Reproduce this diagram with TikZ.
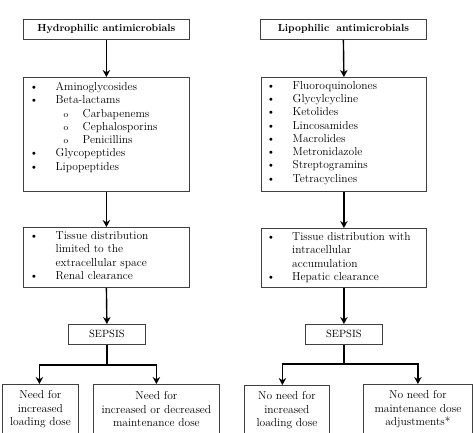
\documentclass[tikz,border=0pt]{standalone}
\usetikzlibrary{arrows.meta}
\newcommand\bitem[2][26pt]{\makebox[#1][l]{\textbullet}#2}
\newcommand\sitem[1]{\makebox[53pt][l]{\hspace{34pt}{\small o}}#1}
\newcommand\cont[2][26pt]{\hspace*{#1}#2}
\tikzset{
  box/.style={draw=black!75, line width=0.8pt, inner sep=0pt, anchor=north west},
  titlebox/.style={box, font=\fontsize{10.3}{12.5}\selectfont\bfseries},
  txt/.style={inner sep=0pt, anchor=north west, align=left, font=\fontsize{11.5}{13.3}\selectfont},
  ctrbox/.style={box, align=center, font=\fontsize{11.5}{13.5}\selectfont},
  sepbox/.style={box, font=\fontsize{10.5}{12.5}\selectfont},
  arr/.style={-{Stealth[length=7pt,width=7.5pt]}, line width=1.4pt},
  conn/.style={line width=1.4pt}
}
\begin{document}
\begin{tikzpicture}[x=1pt,y=-1pt]
\useasboundingbox (0,0) rectangle (474,432);
\clip (0,0) rectangle (474,432);
\fill[white] (0,0) rectangle (474,432);

% ---------- left column ----------
\node[titlebox, minimum width=166pt, minimum height=20pt] (hT) at (23,19) {Hydrophilic antimicrobials};
\node[box, minimum width=166pt, minimum height=114pt] (hL) at (23,77) {};
\node[txt] (hLt) at (29.5,82) {\bitem{Aminoglycosides}\\ \bitem{Beta-lactams}\\ \sitem{Carbapenems}\\ \sitem{Cephalosporins}\\ \sitem{Penicillins}\\ \bitem{Glycopeptides}\\ \bitem{Lipopeptides}};
\node[box, minimum width=166pt, minimum height=60pt] (hX) at (23,227) {};
\node[txt] (hXt) at (29.5,231.5) {\bitem{Tissue distribution}\\ \cont{limited to the}\\ \cont{extracellular space}\\ \bitem{Renal clearance}};
\node[sepbox, minimum width=77pt, minimum height=20pt] (hS) at (68,324) {SEPSIS};
\node[ctrbox, minimum width=76pt, minimum height=50pt] (nl1) at (2,384) {Need for\\ increased\\ loading dose};
\node[ctrbox, minimum width=126pt, minimum height=50pt] (nl2) at (93,384) {Need for\\ increased or decreased\\ maintenance dose};

% ---------- right column ----------
\node[titlebox, minimum width=166pt, minimum height=20pt] (lT) at (260,19) {Lipophilic\hspace{0.3em} antimicrobials};
\node[box, minimum width=165pt, minimum height=114pt] (lL) at (261,77) {};
\node[txt] (lLt) at (266.5,81) {\bitem{Fluoroquinolones}\\ \bitem{Glycylcycline}\\ \bitem{Ketolides}\\ \bitem{Lincosamides}\\ \bitem{Macrolides}\\ \bitem{Metronidazole}\\ \bitem{Streptogramins}\\ \bitem{Tetracyclines}};
\node[box, minimum width=165pt, minimum height=59pt] (lX) at (261,228) {};
\node[txt] (lXt) at (266.5,232.5) {\bitem[25.5pt]{Tissue distribution with}\\ \cont[25.5pt]{intracellular}\\ \cont[25.5pt]{accumulation}\\ \bitem[25.5pt]{Hepatic clearance}};
\node[sepbox, minimum width=77pt, minimum height=20pt] (lS) at (305,324) {SEPSIS};
\node[ctrbox, minimum width=85pt, minimum height=50pt] (nr1) at (244,385) {No need for\\ increased\\ loading dose};
\node[ctrbox, minimum width=109pt, minimum height=50pt] (nr2) at (363,384) {No need for\\ maintenance dose\\ adjustments*};

% ---------- connectors ----------
\draw[arr] (hT.south) -- (hL.north);
\draw[arr] (hL.south) -- (hX.north);
\draw[arr] (hX.south) -- (hS.north);
\draw[conn] (hS.south) -- ++(0,20) coordinate (hb);
\draw[arr] ([xshift=0.7pt]hb) -| ([xshift=-1pt]nl1.north);
\draw[arr] ([xshift=-0.7pt]hb) -| (nl2.north);

\draw[arr] (lT.south) -- (lL.north);
\draw[arr] (lL.south) -- (lX.north);
\draw[arr] (lX.south) -- (lS.north);
\draw[conn] (lS.south) -- ++(0,19) coordinate (lb);
\draw[arr] ([xshift=0.7pt]lb) -| ([xshift=-4.5pt]nr1.north);
\draw[arr] ([xshift=-0.7pt]lb) -| (nr2.north);
\end{tikzpicture}
\end{document}
